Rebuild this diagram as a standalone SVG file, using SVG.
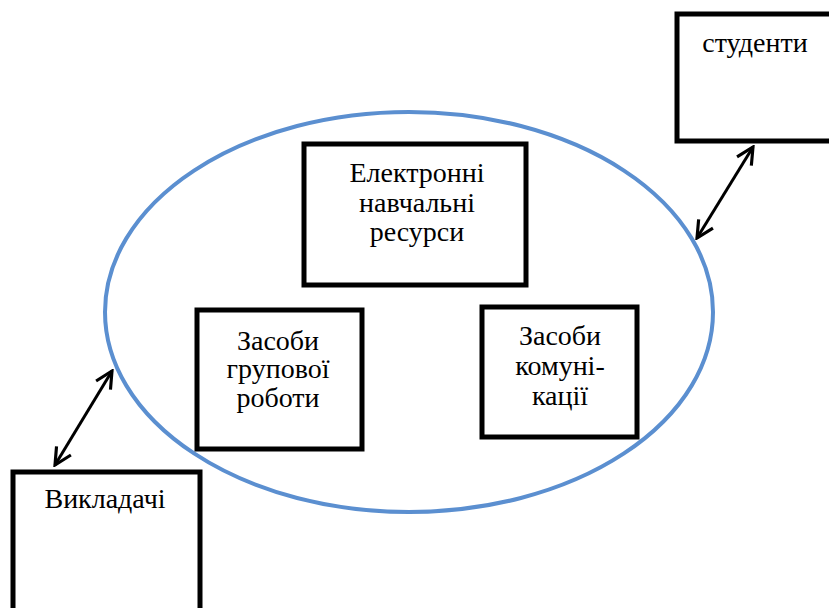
<svg xmlns="http://www.w3.org/2000/svg" width="829" height="608" viewBox="0 0 829 608">
<style>
.box{fill:#fff;stroke:#000;stroke-width:5}
.t{font-family:"Liberation Serif","Times New Roman",serif;font-size:28px;fill:#000;text-anchor:middle}
.c{stroke:#000;stroke-width:3;fill:none}
</style>
<defs>
<marker id="ah" viewBox="0 0 10 10" refX="9" refY="5" markerWidth="7" markerHeight="7" orient="auto-start-reverse" markerUnits="strokeWidth">
<path d="M1,1 L9,5 L1,9" fill="none" stroke="#000" stroke-width="1.5"/>
</marker>
</defs>
<rect width="829" height="608" fill="#fff"/>
<g id="platform">
<ellipse cx="409" cy="312" rx="304" ry="200" fill="none" stroke="#5b8fd0" stroke-width="4"/>
</g>
<g id="students">
<rect class="box" x="677" y="14" width="170" height="127" stroke-width="6"/>
<text class="t" x="755" y="52">студенти</text>
</g>
<g id="teachers">
<rect class="box" x="13" y="472" width="187" height="160" stroke-width="6"/>
<text class="t" x="105" y="508">Викладачі</text>
</g>
<g id="resources">
<rect class="box" x="304" y="144" width="222" height="141"/>
<text class="t" x="417" y="182">Електронні</text>
<text class="t" x="417" y="212">навчальні</text>
<text class="t" x="417" y="241">ресурси</text>
</g>
<g id="groupwork">
<rect class="box" x="197" y="310" width="165" height="139"/>
<text class="t" x="278" y="350">Засоби</text>
<text class="t" x="278" y="378">групової</text>
<text class="t" x="278" y="407">роботи</text>
</g>
<g id="communication">
<rect class="box" x="482" y="307" width="155" height="130"/>
<text class="t" x="560" y="345">Засоби</text>
<text class="t" x="560" y="375">комуні-</text>
<text class="t" x="560" y="405">кації</text>
</g>
<g id="connectors">
<line class="c" x1="697" y1="238" x2="753" y2="147" marker-start="url(#ah)" marker-end="url(#ah)"/>
<line class="c" x1="55" y1="465" x2="112" y2="371" marker-start="url(#ah)" marker-end="url(#ah)"/>
</g>
</svg>
